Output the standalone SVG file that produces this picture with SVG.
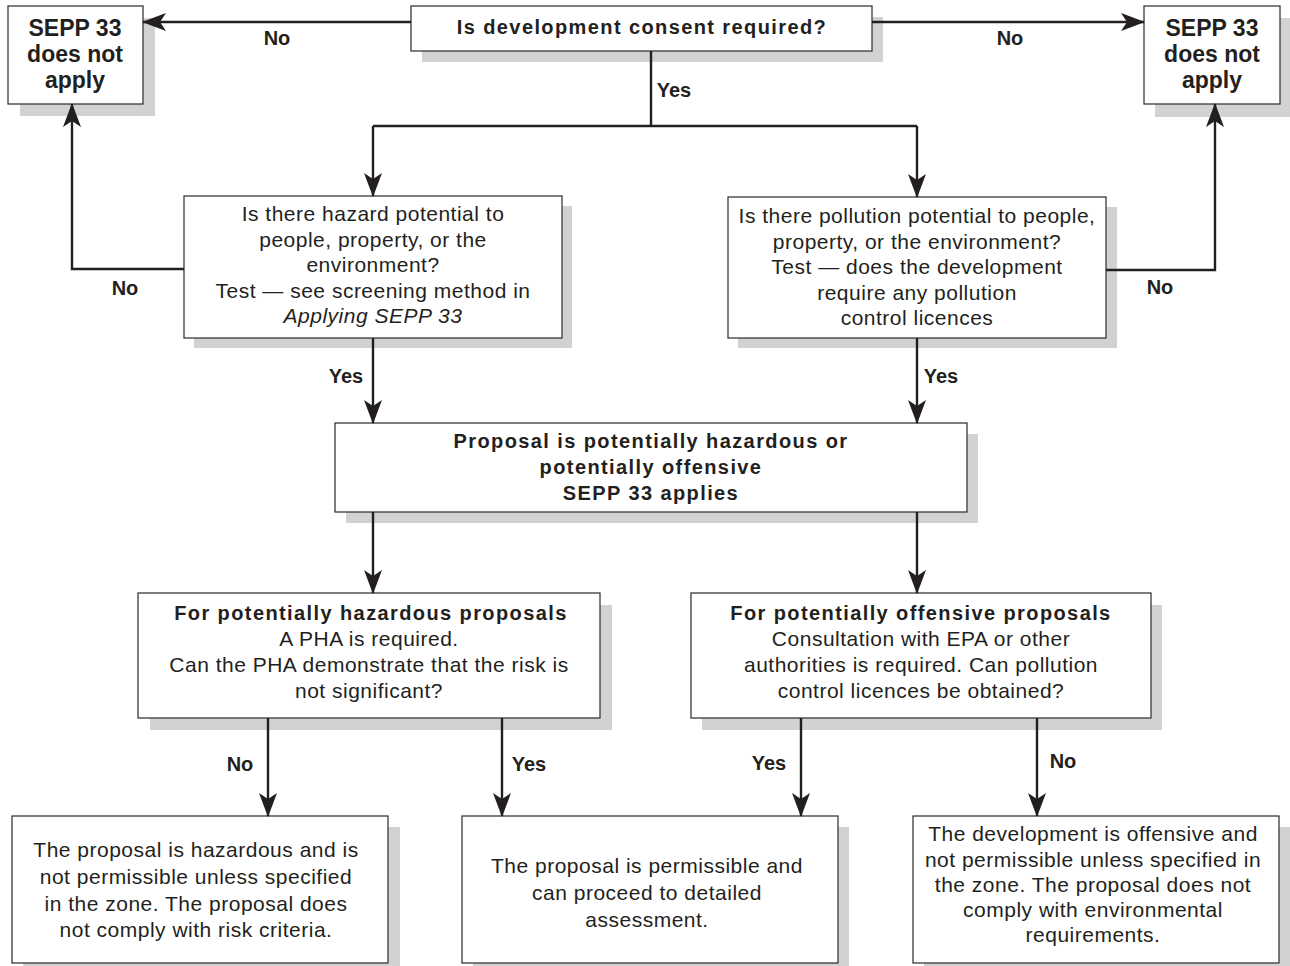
<svg xmlns="http://www.w3.org/2000/svg" width="1290" height="966" viewBox="0 0 1290 966">
<style>
.sh{fill:#d1d2d4}
.box{fill:#fff;stroke:#3a3a3a;stroke-width:1.3}
.t{font-family:"Liberation Sans",Arial,sans-serif;font-size:21px;fill:#231f20;letter-spacing:0.5px;text-anchor:middle}
.b{font-weight:bold;font-size:20px;letter-spacing:1.4px}
.big{font-weight:bold;font-size:23px;letter-spacing:0px}
.i{font-style:italic}
.lbl{font-family:"Liberation Sans",Arial,sans-serif;font-weight:bold;font-size:20px;fill:#231f20;text-anchor:middle}
.c{fill:none;stroke:#231f20;stroke-width:2.4}
</style>
<defs>
<marker id="ah" viewBox="0 0 24 20" refX="23" refY="10" markerWidth="24" markerHeight="20" markerUnits="userSpaceOnUse" orient="auto">
<path d="M0,1 L24,10 L0,19 L6,10 Z" fill="#231f20"/>
</marker>
</defs>
<rect width="1290" height="966" fill="#fff"/>

<g id="n-left-na">
<rect class="sh" x="20" y="18" width="135" height="98"/>
<rect class="box" x="8" y="6" width="135" height="98"/>
<text class="t big" x="75" y="36">SEPP 33</text>
<text class="t big" x="75" y="62">does not</text>
<text class="t big" x="75" y="88">apply</text>
</g>

<g id="n-consent">
<rect class="sh" x="422" y="17" width="461" height="45"/>
<rect class="box" x="411" y="6" width="461" height="45"/>
<text class="t b" x="642" y="34">Is development consent required?</text>
</g>

<g id="n-right-na">
<rect class="sh" x="1155" y="18" width="135" height="99"/>
<rect class="box" x="1144" y="6" width="136" height="98"/>
<text class="t big" x="1212" y="36">SEPP 33</text>
<text class="t big" x="1212" y="62">does not</text>
<text class="t big" x="1212" y="88">apply</text>
</g>

<g id="n-hazard">
<rect class="sh" x="194" y="206" width="378" height="142"/>
<rect class="box" x="184" y="196" width="378" height="142"/>
<text class="t" x="373" y="221">Is there hazard potential to</text>
<text class="t" x="373" y="247">people, property, or the</text>
<text class="t" x="373" y="272">environment?</text>
<text class="t" x="373" y="298">Test — see screening method in</text>
<text class="t i" x="373" y="323">Applying SEPP 33</text>
</g>

<g id="n-pollution">
<rect class="sh" x="738" y="207" width="379" height="141"/>
<rect class="box" x="728" y="197" width="378" height="141"/>
<text class="t" x="917" y="223">Is there pollution potential to people,</text>
<text class="t" x="917" y="249">property, or the environment?</text>
<text class="t" x="917" y="274">Test — does the development</text>
<text class="t" x="917" y="300">require any pollution</text>
<text class="t" x="917" y="325">control licences</text>
</g>

<g id="n-applies">
<rect class="sh" x="346" y="434" width="632" height="89"/>
<rect class="box" x="335" y="423" width="632" height="89"/>
<text class="t b" x="651" y="448">Proposal is potentially hazardous or</text>
<text class="t b" x="651" y="474">potentially offensive</text>
<text class="t b" x="651" y="500">SEPP 33 applies</text>
</g>

<g id="n-hazardous">
<rect class="sh" x="150" y="605" width="462" height="125"/>
<rect class="box" x="138" y="593" width="462" height="125"/>
<text class="t b" x="371" y="620">For potentially hazardous proposals</text>
<text class="t" x="369" y="646">A PHA is required.</text>
<text class="t" x="369" y="672">Can the PHA demonstrate that the risk is</text>
<text class="t" x="369" y="698">not significant?</text>
</g>

<g id="n-offensive">
<rect class="sh" x="702" y="605" width="460" height="125"/>
<rect class="box" x="691" y="593" width="460" height="125"/>
<text class="t b" x="921" y="620">For potentially offensive proposals</text>
<text class="t" x="921" y="646">Consultation with EPA or other</text>
<text class="t" x="921" y="672">authorities is required. Can pollution</text>
<text class="t" x="921" y="698">control licences be obtained?</text>
</g>

<g id="n-hazardous-result">
<rect class="sh" x="23" y="827" width="377" height="146"/>
<rect class="box" x="12" y="816" width="376" height="147"/>
<text class="t" x="196" y="857">The proposal is hazardous and is</text>
<text class="t" x="196" y="884">not permissible unless specified</text>
<text class="t" x="196" y="911">in the zone. The proposal does</text>
<text class="t" x="196" y="937">not comply with risk criteria.</text>
</g>

<g id="n-permissible">
<rect class="sh" x="473" y="827" width="376" height="146"/>
<rect class="box" x="462" y="816" width="376" height="147"/>
<text class="t" x="647" y="873">The proposal is permissible and</text>
<text class="t" x="647" y="900">can proceed to detailed</text>
<text class="t" x="647" y="927">assessment.</text>
</g>

<g id="n-offensive-result">
<rect class="sh" x="924" y="827" width="366" height="146"/>
<rect class="box" x="913" y="816" width="366" height="147"/>
<text class="t" x="1093" y="841">The development is offensive and</text>
<text class="t" x="1093" y="867">not permissible unless specified in</text>
<text class="t" x="1093" y="892">the zone. The proposal does not</text>
<text class="t" x="1093" y="917">comply with environmental</text>
<text class="t" x="1093" y="942">requirements.</text>
</g>

<g id="connectors">
<path class="c" d="M411,22 H143" marker-end="url(#ah)"/>
<path class="c" d="M872,22 H1144" marker-end="url(#ah)"/>
<path class="c" d="M651,51 V126"/>
<path class="c" d="M373,126 H917"/>
<path class="c" d="M373,126 V196" marker-end="url(#ah)"/>
<path class="c" d="M917,126 V197" marker-end="url(#ah)"/>
<path class="c" d="M184,269 H72 V104" marker-end="url(#ah)"/>
<path class="c" d="M1106,270 H1215 V104" marker-end="url(#ah)"/>
<path class="c" d="M373,338 V423" marker-end="url(#ah)"/>
<path class="c" d="M917,338 V423" marker-end="url(#ah)"/>
<path class="c" d="M373,512 V593" marker-end="url(#ah)"/>
<path class="c" d="M917,512 V593" marker-end="url(#ah)"/>
<path class="c" d="M268,718 V816" marker-end="url(#ah)"/>
<path class="c" d="M502,718 V816" marker-end="url(#ah)"/>
<path class="c" d="M801,718 V816" marker-end="url(#ah)"/>
<path class="c" d="M1037,718 V816" marker-end="url(#ah)"/>
<text class="lbl" x="277" y="45">No</text>
<text class="lbl" x="1010" y="45">No</text>
<text class="lbl" x="674" y="97">Yes</text>
<text class="lbl" x="125" y="295">No</text>
<text class="lbl" x="1160" y="294">No</text>
<text class="lbl" x="346" y="383">Yes</text>
<text class="lbl" x="941" y="383">Yes</text>
<text class="lbl" x="240" y="771">No</text>
<text class="lbl" x="529" y="771">Yes</text>
<text class="lbl" x="769" y="770">Yes</text>
<text class="lbl" x="1063" y="768">No</text>
</g>
</svg>
